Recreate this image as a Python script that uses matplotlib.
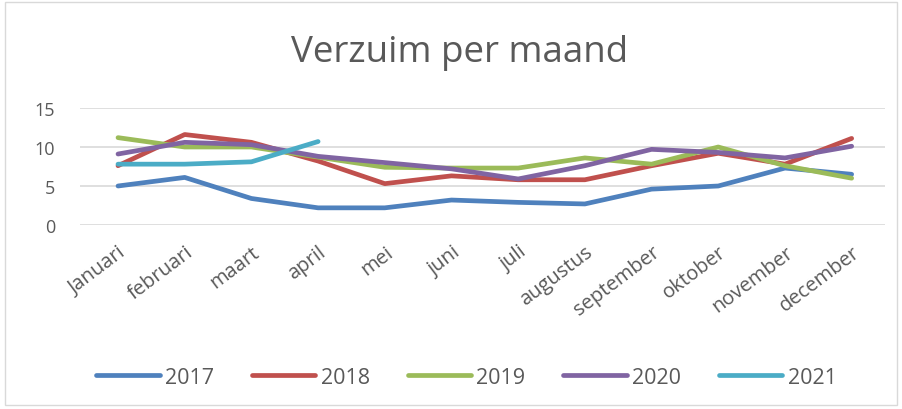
import matplotlib
matplotlib.use("Agg")
import matplotlib.pyplot as plt
from matplotlib.patches import Rectangle

months = ["Januari", "februari", "maart", "april", "mei", "juni", "juli",
          "augustus", "september", "oktober", "november", "december"]
y2017 = [5.0, 6.1, 3.4, 2.2, 2.2, 3.2, 2.9, 2.7, 4.6, 5.0, 7.3, 6.5]
y2018 = [7.6, 11.6, 10.6, 8.2, 5.3, 6.3, 5.8, 5.8, 7.6, 9.2, 7.8, 11.1]
y2019 = [11.2, 10.0, 10.0, 8.7, 7.4, 7.3, 7.3, 8.6, 7.8, 10.0, 7.6, 6.0]
y2020 = [9.1, 10.6, 10.3, 8.8, 8.0, 7.2, 5.9, 7.6, 9.7, 9.3, 8.6, 10.1]
y2021 = [7.8, 7.8, 8.1, 10.7]
series = [("2017", y2017, "#4F81BD"), ("2018", y2018, "#C0504D"),
          ("2019", y2019, "#9BBB59"), ("2020", y2020, "#8064A2"),
          ("2021", y2021, "#4BACC6")]
yticks = [0, 5, 10, 15]

plt.rcParams['font.family'] = ['Open Sans', 'DejaVu Sans']
fig = plt.figure(figsize=(9.02, 4.10), dpi=100)
fig.patches.append(Rectangle((0.006, 0.01), 0.988, 0.982, transform=fig.transFigure,
                             fill=False, edgecolor="#D9D9D9", lw=1))
ax = fig.add_axes([80/902, 1-226/410, 805/902, 117/410])
x = list(range(len(months)))
for name, vals, col in series:
    ax.plot(x[:len(vals)], vals, color=col, lw=3.4, label=name, solid_capstyle='round')
ax.set_xlim(-0.57, 11.5)
ax.set_ylim(0, 15)
ax.set_yticks(yticks)
ax.yaxis.grid(True, color="#D9D9D9", lw=1.2)
ax.set_axisbelow(True)
for s in ax.spines.values():
    s.set_visible(False)
ax.set_xticks(x)
ax.set_xticklabels(months, rotation=37, ha='right', va='top', rotation_mode='anchor')
ax.tick_params(axis='both', length=0, colors="#595959")
ax.tick_params(axis='x', labelsize=14.5, pad=12)
ax.tick_params(axis='y', labelsize=13, pad=18)
fig.text(0.51, 1-62/410, "Verzuim per maand", ha='center', va='baseline', fontsize=26.5, color="#595959")
fig.legend(loc='center', bbox_to_anchor=(0.517, 0.078), ncol=5, frameon=False,
           fontsize=15.5, handlelength=2.95, columnspacing=1.75, handletextpad=0.25,
           labelcolor="#595959")
fig.savefig("out.png", dpi=100)
